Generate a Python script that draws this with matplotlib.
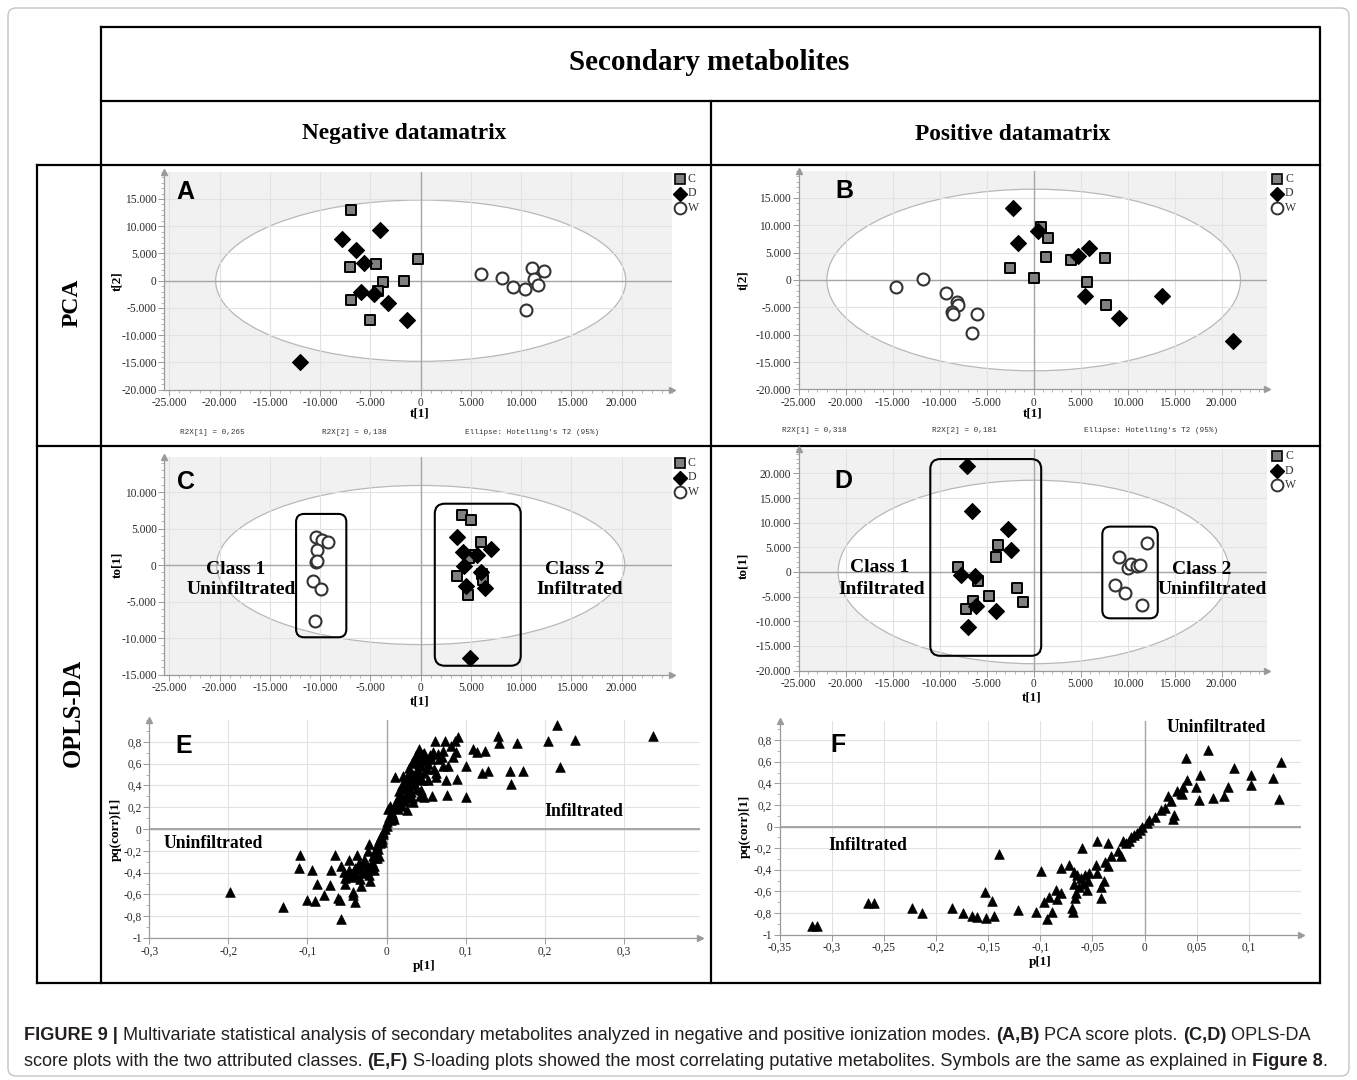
import matplotlib
matplotlib.use("Agg")
import matplotlib.pyplot as plt
from matplotlib import font_manager
from matplotlib.patches import Ellipse, FancyBboxPatch
from matplotlib.ticker import FixedLocator, FuncFormatter, MultipleLocator

# ---------------- data (thousands) ----------------
# panel A - PCA negative
a_c_x = [-6.9, -7.0, -4.4, -0.3, -3.8, -1.7, -4.2, -6.9, -5.0]
a_c_y = [13.0, 2.5, 3.0, 4.0, -0.3, -0.1, -1.9, -3.6, -7.2]
a_d_x = [-7.8, -4.1, -6.4, -5.6, -5.9, -4.6, -3.3, -1.4, -12.0]
a_d_y = [7.6, 9.3, 5.6, 3.2, -2.0, -2.5, -4.0, -7.2, -15.0]
a_w_x = [6.0, 8.1, 9.2, 10.4, 11.1, 11.3, 12.3, 11.7, 10.5]
a_w_y = [1.2, 0.5, -1.2, -1.6, 2.4, 0.4, 1.7, -0.8, -5.3]
# panel B - PCA positive
b_c_x = [0.8, 1.5, 1.3, -2.5, 0.0, 4.0, 7.6, 5.7, 7.7]
b_c_y = [9.6, 7.7, 4.2, 2.2, 0.3, 3.7, 4.0, -0.4, -4.5]
b_d_x = [-2.2, -1.7, 0.5, 4.7, 5.9, 5.5, 9.1, 13.7, 21.2]
b_d_y = [13.2, 6.7, 9.0, 4.3, 5.9, -3.0, -6.9, -3.0, -11.2]
b_w_x = [-14.6, -11.8, -9.3, -8.2, -8.1, -8.7, -8.6, -6.0, -6.6]
b_w_y = [-1.2, 0.2, -2.3, -4.1, -4.6, -5.8, -6.3, -6.2, -9.6]
# panel C - OPLS-DA negative
c_c_x = [4.1, 5.0, 6.0, 3.6, 4.7, 6.1, 5.2, 6.2, 4.8]
c_c_y = [6.8, 6.1, 3.2, -1.5, -4.1, -1.2, 1.4, -2.0, 0.9]
c_d_x = [3.6, 4.2, 7.0, 5.6, 4.3, 6.0, 4.5, 6.4, 4.9]
c_d_y = [3.9, 1.8, 2.2, 1.4, -0.1, -0.9, -2.9, -3.1, -12.8]
c_w_x = [-10.4, -9.8, -9.2, -10.3, -10.4, -10.3, -10.7, -9.9, -10.5]
c_w_y = [3.8, 3.4, 3.2, 2.0, 0.4, 0.6, -2.2, -3.3, -7.7]
# panel D - OPLS-DA positive
d_c_x = [-8.1, -3.8, -4.0, -5.9, -4.8, -1.8, -1.1, -6.5, -7.2]
d_c_y = [1.0, 5.5, 3.0, -1.8, -4.9, -3.2, -6.1, -5.8, -7.6]
d_d_x = [-7.1, -6.6, -2.7, -2.4, -7.7, -6.2, -6.1, -4.0, -7.0]
d_d_y = [21.4, 12.3, 8.7, 4.4, -0.6, -0.8, -6.8, -8.0, -11.1]
d_w_x = [9.1, 8.6, 9.7, 10.0, 10.4, 11.0, 11.3, 12.1, 11.5]
d_w_y = [3.0, -2.6, -4.3, 0.9, 1.6, 1.3, 1.4, 5.8, -6.7]

# panel E - S-plot negative
e_x = [-0.198, -0.131, -0.110, -0.111, -0.094, -0.100, -0.090, -0.088, -0.079, -0.072,
       -0.070, -0.065, -0.061, -0.059, -0.057, -0.058, -0.054, -0.052, -0.047, -0.045,
       -0.043, -0.042, -0.040, -0.037, -0.036, -0.033, -0.032, -0.027, -0.023, -0.022,
       -0.021, -0.020, -0.017, -0.016, -0.014, -0.012, -0.010, -0.009, -0.007, -0.006,
       -0.004, -0.002, 0.000, 0.001, 0.003, 0.002, 0.005, 0.007, 0.010, 0.012,
       0.015, 0.011, 0.016, 0.017, 0.020, 0.021, 0.022, 0.025, 0.026, 0.027,
       0.030, 0.031, 0.032, 0.034, 0.035, 0.037, 0.038, 0.040, 0.041, 0.042,
       0.044, 0.045, 0.046, 0.047, 0.048, 0.050, 0.051, 0.056, 0.058, 0.059,
       0.061, 0.062, 0.063, 0.067, 0.071, 0.072, 0.074, 0.075, 0.077, 0.078,
       0.082, 0.084, 0.087, 0.088, 0.089, 0.091, 0.101, 0.100, 0.109, 0.114,
       0.121, 0.124, 0.129, 0.141, 0.142, 0.156, 0.157, 0.165, 0.173, 0.204,
       0.216, 0.219, 0.238, 0.337,
       0.012, 0.014, 0.018, 0.019, 0.023, 0.024, 0.026, 0.028, 0.029, 0.031,
       0.033, 0.034, 0.036, 0.038, 0.039, 0.041, 0.043, 0.044, 0.046, 0.048,
       0.020, 0.016, 0.008, 0.006, 0.027, 0.032, 0.037, 0.052, 0.055, 0.065,
       0.070, 0.060, 0.053,
       -0.004, -0.006, -0.008, -0.011, -0.013, -0.015, -0.018, -0.020, -0.024, -0.026,
       -0.029, -0.031, -0.034, -0.038, -0.040, -0.044, -0.048, -0.050, -0.052, -0.028,
       -0.016, -0.012, -0.022, -0.035, -0.042]
e_y = [-0.574, -0.715, -0.240, -0.360, -0.380, -0.650, -0.665, -0.506, -0.610, -0.515,
       -0.375, -0.236, -0.635, -0.650, -0.830, -0.340, -0.390, -0.500, -0.280, -0.410,
       -0.575, -0.610, -0.670, -0.240, -0.340, -0.460, -0.520, -0.290, -0.200, -0.140,
       -0.480, -0.370, -0.245, -0.380, -0.200, -0.150, -0.245, -0.100, -0.060, -0.120,
       -0.030, 0.000, 0.030, 0.060, 0.110, 0.180, 0.215, 0.150, 0.090, 0.245,
       0.180, 0.475, 0.350, 0.290, 0.215, 0.490, 0.370, 0.290, 0.170, 0.410,
       0.520, 0.340, 0.610, 0.245, 0.460, 0.675, 0.370, 0.540, 0.735, 0.300,
       0.580, 0.445, 0.690, 0.510, 0.290, 0.645, 0.550, 0.645, 0.300, 0.705,
       0.805, 0.510, 0.475, 0.645, 0.720, 0.580, 0.805, 0.445, 0.310, 0.580,
       0.760, 0.660, 0.805, 0.705, 0.455, 0.845, 0.580, 0.290, 0.730, 0.705,
       0.515, 0.720, 0.535, 0.850, 0.790, 0.535, 0.415, 0.790, 0.535, 0.805,
       0.955, 0.565, 0.820, 0.850,
       0.200, 0.280, 0.320, 0.400, 0.440, 0.260, 0.480, 0.380, 0.560, 0.440,
       0.620, 0.500, 0.400, 0.630, 0.480, 0.600, 0.680, 0.360, 0.620, 0.700,
       0.280, 0.220, 0.120, 0.080, 0.330, 0.280, 0.520, 0.600, 0.680, 0.690,
       0.660, 0.550, 0.450,
       -0.050, -0.090, -0.130, -0.180, -0.220, -0.270, -0.300, -0.330, -0.360, -0.390,
       -0.330, -0.400, -0.370, -0.420, -0.360, -0.440, -0.380, -0.420, -0.450, -0.280,
       -0.340, -0.270, -0.420, -0.310, -0.400]

# panel F - S-plot positive
f_x = [-0.319, -0.314, -0.265, -0.260, -0.223, -0.214, -0.185, -0.174, -0.166, -0.161,
       -0.153, -0.152, -0.146, -0.144, -0.140, -0.121, -0.104, -0.099, -0.096, -0.094,
       -0.092, -0.089, -0.085, -0.084, -0.080, -0.080, -0.072, -0.070, -0.069, -0.068,
       -0.068, -0.067, -0.066, -0.065, -0.063, -0.061, -0.060, -0.059, -0.057, -0.055,
       -0.054, -0.053, -0.047, -0.046, -0.046, -0.042, -0.042, -0.039, -0.038, -0.035,
       -0.035, -0.032, -0.025, -0.023, -0.021, -0.018, -0.015, -0.013, -0.010, -0.0075,
       -0.0045, -0.002, 0.002, 0.004, 0.010, 0.016, 0.020, 0.023, 0.0255, 0.027,
       0.0285, 0.031, 0.035, 0.037, 0.040, 0.0405, 0.049, 0.052, 0.053, 0.061,
       0.066, 0.076, 0.080, 0.086, 0.102, 0.102, 0.123, 0.129, 0.131, 0.036]
f_y = [-0.920, -0.920, -0.710, -0.710, -0.750, -0.800, -0.750, -0.800, -0.830, -0.835,
       -0.610, -0.850, -0.690, -0.830, -0.257, -0.775, -0.795, -0.410, -0.700, -0.860,
       -0.650, -0.790, -0.590, -0.675, -0.620, -0.387, -0.356, -0.750, -0.790, -0.420,
       -0.530, -0.666, -0.620, -0.450, -0.560, -0.480, -0.195, -0.530, -0.450, -0.590,
       -0.500, -0.430, -0.356, -0.133, -0.430, -0.560, -0.660, -0.500, -0.325, -0.155,
       -0.370, -0.270, -0.230, -0.270, -0.133, -0.155, -0.133, -0.093, -0.077, -0.062,
       -0.031, -0.006, 0.031, 0.056, 0.087, 0.155, 0.170, 0.285, 0.232, 0.071,
       0.108, 0.325, 0.310, 0.370, 0.635, 0.433, 0.370, 0.248, 0.474, 0.712,
       0.263, 0.285, 0.362, 0.542, 0.480, 0.387, 0.449, 0.257, 0.598, 0.300]

W, H = 1357, 1080
plt.rcParams["font.family"] = ["Liberation Serif", "DejaVu Serif"]
names = {f.name for f in font_manager.fontManager.ttflist}
CAP_FONT = "Liberation Sans Narrow" if "Liberation Sans Narrow" in names else "Liberation Sans"

fig = plt.figure(figsize=(W / 100, H / 100), dpi=100)
bg = fig.add_axes([0, 0, 1, 1])
bg.set_xlim(0, W)
bg.set_ylim(H, 0)
bg.axis("off")


def px_axes(l, t, r, b):
    return fig.add_axes([l / W, 1 - b / H, (r - l) / W, (b - t) / H])


# ---------------- frame / table ----------------
bg.add_patch(FancyBboxPatch((8, 8), W - 16, H - 12, boxstyle="round,pad=0,rounding_size=8",
                            fc="none", ec="#c4c4c4", lw=1.0))
k = dict(color="black", lw=1.6, solid_capstyle="projecting")
bg.plot([101, 1320, 1320, 101, 101], [27, 27, 101, 101, 27], **k)
for yy in (165, 446, 983):
    bg.plot([37, 1320], [yy, yy], **k)
bg.plot([37, 37], [165, 983], **k)
bg.plot([101, 101], [101, 983], **k)
bg.plot([1320, 1320], [101, 983], **k)
bg.plot([711, 711], [101, 983], **k)

bg.text(709, 63, "Secondary metabolites", ha="center", va="center", fontsize=21, fontweight="bold")
bg.text(404, 134, "Negative datamatrix", ha="center", va="center", fontsize=16.8, fontweight="bold")
bg.text(1013, 134, "Positive datamatrix", ha="center", va="center", fontsize=16.8, fontweight="bold")
bg.text(72, 303, "PCA", ha="center", va="center", rotation=90, fontsize=17, fontweight="bold")
bg.text(73, 713, "OPLS-DA", ha="center", va="center", rotation=90, fontsize=17.7, fontweight="bold")


def thou(v, pos=None):
    return "0" if abs(v) < 1e-9 else f"{v / 1000:.3f}"


def comma(v, pos=None):
    if abs(v) < 1e-9:
        return "0"
    s = f"{v:.2f}".rstrip("0").rstrip(".")
    return s.replace(".", ",")


def base_axes(ax, xticks, yticks, xminor, yminor, fmt, face):
    ax.set_facecolor(face)
    ax.set_axisbelow(True)
    for s in ("top", "right"):
        ax.spines[s].set_visible(False)
    for s in ("left", "bottom"):
        ax.spines[s].set_color("#9a9a9a")
        ax.spines[s].set_linewidth(0.9)
    ax.xaxis.set_major_locator(FixedLocator(xticks))
    ax.yaxis.set_major_locator(FixedLocator(yticks))
    ax.xaxis.set_minor_locator(MultipleLocator(xminor))
    ax.yaxis.set_minor_locator(MultipleLocator(yminor))
    ax.xaxis.set_major_formatter(FuncFormatter(fmt))
    ax.yaxis.set_major_formatter(FuncFormatter(fmt))
    ax.tick_params(which="major", length=4, width=0.7, color="#9a9a9a", labelsize=8.3,
                   labelcolor="#2a2a2a", pad=1.5)
    ax.tick_params(which="minor", length=2, width=0.5, color="#9a9a9a")
    ax.grid(True, which="major", color="#e2e2e2", lw=0.8)
    ax.axhline(0, color="#a6a6a6", lw=1.0, zorder=1)
    ax.axvline(0, color="#a6a6a6", lw=1.0, zorder=1)
    ax.plot(1.0, 0, ">", transform=ax.transAxes, clip_on=False, color="#9a9a9a", ms=4, zorder=5)
    ax.plot(0, 1.0, "^", transform=ax.transAxes, clip_on=False, color="#9a9a9a", ms=4, zorder=5)


def score_panel(rect, xlim, ylim, yticks, ell, cx, cy, dx, dy, wx, wy, legend_xy):
    ax = px_axes(*rect)
    ax.set_xlim(*xlim)
    ax.set_ylim(*ylim)
    base_axes(ax, list(range(-25000, 20001, 5000)), yticks, 1000, 1000, thou, "#f1f1f1")
    ax.add_patch(Ellipse((0, 0), 2 * ell[0], 2 * ell[1], fc="white", ec="#b8b8b8", lw=0.9, zorder=0.3))
    ax.scatter([v * 1000 for v in cx], [v * 1000 for v in cy], marker="s", s=58, fc="#808080",
               ec="black", linewidths=1.4, zorder=3)
    ax.scatter([v * 1000 for v in dx], [v * 1000 for v in dy], marker="D", s=66, fc="black",
               ec="black", linewidths=0.8, zorder=3)
    ax.scatter([v * 1000 for v in wx], [v * 1000 for v in wy], marker="o", s=74, fc="white",
               ec="#333333", linewidths=1.5, zorder=3)
    # legend C / D / W
    lx, ly = legend_xy
    bg.plot(lx, ly, "s", ms=7, mfc="#808080", mec="black", mew=1.2)
    bg.plot(lx, ly + 14.5, "D", ms=7, mfc="black", mec="black")
    bg.plot(lx, ly + 29, "o", ms=8.5, mfc="white", mec="#333333", mew=1.4)
    for i, t in enumerate("CDW"):
        bg.text(lx + 8, ly + 14.5 * i, t, ha="left", va="center", fontsize=8.5, color="#333333")
    return ax


def rounded_box(ax, x0, x1, y0, y1, r_px):
    bb = ax.get_position()
    wpx, hpx = bb.width * W, bb.height * H
    ux = (ax.get_xlim()[1] - ax.get_xlim()[0]) / wpx
    uy = (ax.get_ylim()[1] - ax.get_ylim()[0]) / hpx
    ax.add_patch(FancyBboxPatch((x0, y0), x1 - x0, y1 - y0,
                                boxstyle=f"round,pad=0,rounding_size={r_px * ux}",
                                mutation_aspect=uy / ux, fc="none", ec="black", lw=1.5, zorder=4))


pca_y = list(range(-20000, 15001, 5000))
axA = score_panel((164.4, 171.7, 672, 389.7), (-25500, 25000), (-20000, 20000), pca_y,
                  (20400, 14800), a_c_x, a_c_y, a_d_x, a_d_y, a_w_x, a_w_y, (680, 179))
axB = score_panel((798.7, 170.6, 1266.8, 389.4), (-25000, 24800), (-20000, 20000), pca_y,
                  (22000, 16600), b_c_x, b_c_y, b_d_x, b_d_y, b_w_x, b_w_y, (1277, 179))
axC = score_panel((164.4, 457, 672, 674.5), (-25500, 25000), (-15000, 14800),
                  list(range(-15000, 10001, 5000)), (20300, 10900),
                  c_c_x, c_c_y, c_d_x, c_d_y, c_w_x, c_w_y, (680, 463))
axD = score_panel((798.7, 448.7, 1266.8, 670.6), (-25000, 24800), (-20000, 25000),
                  list(range(-20000, 20001, 5000)), (20800, 18600),
                  d_c_x, d_c_y, d_d_x, d_d_y, d_w_x, d_w_y, (1277, 456))
rounded_box(axC, -12400, -7400, -9900, 7000, 8)
rounded_box(axC, 1400, 9950, -13800, 8400, 10)
rounded_box(axD, -11000, 800, -17000, 22900, 10)
rounded_box(axD, 7300, 13200, -9400, 9200, 8)


def s_panel(rect, xlim, ylim, xticks, x, y):
    ax = px_axes(*rect)
    ax.set_xlim(*xlim)
    ax.set_ylim(*ylim)
    base_axes(ax, xticks, [-1, -0.8, -0.6, -0.4, -0.2, 0, 0.2, 0.4, 0.6, 0.8],
              xticks[1] - xticks[0], 0.1, comma, "white")
    ax.axhline(0, color="#a6a6a6", lw=1.4, zorder=1)
    ax.scatter(x, y, marker="^", s=48, fc="black", ec="black", linewidths=0.5, zorder=3)
    return ax


axE = s_panel((149.4, 720, 700.3, 938), (-0.3, 0.397), (-1, 1.0),
              [-0.3, -0.2, -0.1, 0, 0.1, 0.2, 0.3], e_x, e_y)
axF = s_panel((779.8, 720.7, 1300.8, 934.5), (-0.35, 0.15), (-1, 0.98),
              [-0.35, -0.3, -0.25, -0.2, -0.15, -0.1, -0.05, 0, 0.05, 0.1], f_x, f_y)

# ---------------- annotations (overlay on top of the panels) ----------------
top = fig.add_axes([0, 0, 1, 1])
top.set_xlim(0, W)
top.set_ylim(H, 0)
top.axis("off")

lab = dict(ha="center", va="center", fontweight="bold", fontsize=9.5)
for (x, y, t, rot) in [(420, 414, "t[1]", 0), (117, 281, "t[2]", 90),
                       (1033, 414, "t[1]", 0), (743, 280, "t[2]", 90),
                       (420, 702, "t[1]", 0), (117, 565, "to[1]", 90),
                       (1032, 698, "t[1]", 0), (743, 566, "to[1]", 90),
                       (424, 966, "p[1]", 0), (116, 829, "pq(corr)[1]", 90),
                       (1040, 962, "p[1]", 0), (745, 826, "pq(corr)[1]", 90)]:
    top.text(x, y, t, rotation=rot, **lab)

for (x, y, t) in [(185, 192, "A"), (844, 191, "B"), (186, 482, "C"),
                  (843, 481, "D"), (184, 746, "E"), (838, 745, "F")]:
    top.text(x, y, t, ha="center", va="center", fontsize=18, fontweight="bold",
             family=["Liberation Sans", "DejaVu Sans"])

cls = dict(ha="center", va="center", fontweight="bold", fontsize=14)
for (x, y, t) in [(236, 570, "Class 1"), (241, 589, "Uninfiltrated"),
                  (575, 569, "Class 2"), (580, 589, "Infiltrated"),
                  (880, 567, "Class 1"), (882, 589, "Infiltrated"),
                  (1202, 569, "Class 2"), (1212, 590, "Uninfiltrated")]:
    top.text(x, y, t, **cls)
sl = dict(ha="center", va="center", fontweight="bold", fontsize=12.7)
for (x, y, t) in [(213, 843, "Uninfiltrated"), (584, 812, "Infiltrated"),
                  (1216, 727, "Uninfiltrated"), (868, 845, "Infiltrated")]:
    top.text(x, y, t, **sl)

mono = dict(ha="center", va="center", fontsize=5.5, color="#333333",
            family=["Liberation Mono", "DejaVu Sans Mono"])
for (x, y, t) in [(212, 432, "R2X[1] = 0,265"), (354, 432, "R2X[2] = 0,138"),
                  (532, 432, "Ellipse: Hotelling's T2 (95%)"),
                  (814, 431, "R2X[1] = 0,318"), (964, 431, "R2X[2] = 0,181"),
                  (1151, 431, "Ellipse: Hotelling's T2 (95%)")]:
    top.text(x, y, t, **mono)

# ---------------- caption ----------------
line1 = [("FIGURE 9 |", True),
         (" Multivariate statistical analysis of secondary metabolites analyzed in negative and positive ionization modes. ", False),
         ("(A,B)", True), (" PCA score plots. ", False), ("(C,D)", True), (" OPLS-DA", False)]
line2 = [("score plots with the two attributed classes. ", False), ("(E,F)", True),
         (" S-loading plots showed the most correlating putative metabolites. Symbols are the same as explained in ", False),
         ("Figure 8", True), (".", False)]

renderer = fig.canvas.get_renderer()


def draw_line(segs, x0, y, fs):
    x = x0
    arts = []
    for t, b in segs:
        a = top.text(x, y, t, ha="left", va="center", fontsize=fs, color="#231f20",
                     fontweight="bold" if b else "normal", family=[CAP_FONT, "DejaVu Sans"])
        x += a.get_window_extent(renderer).width
        arts.append(a)
    return arts, x - x0


arts, w2 = draw_line(line2, 24, 1061, 12)
for a in arts:
    a.remove()
fs = 12 * (1333 - 24) / w2
draw_line(line1, 24, 1036, fs)
draw_line(line2, 24, 1061, fs)

fig.savefig("out.png", dpi=100)
